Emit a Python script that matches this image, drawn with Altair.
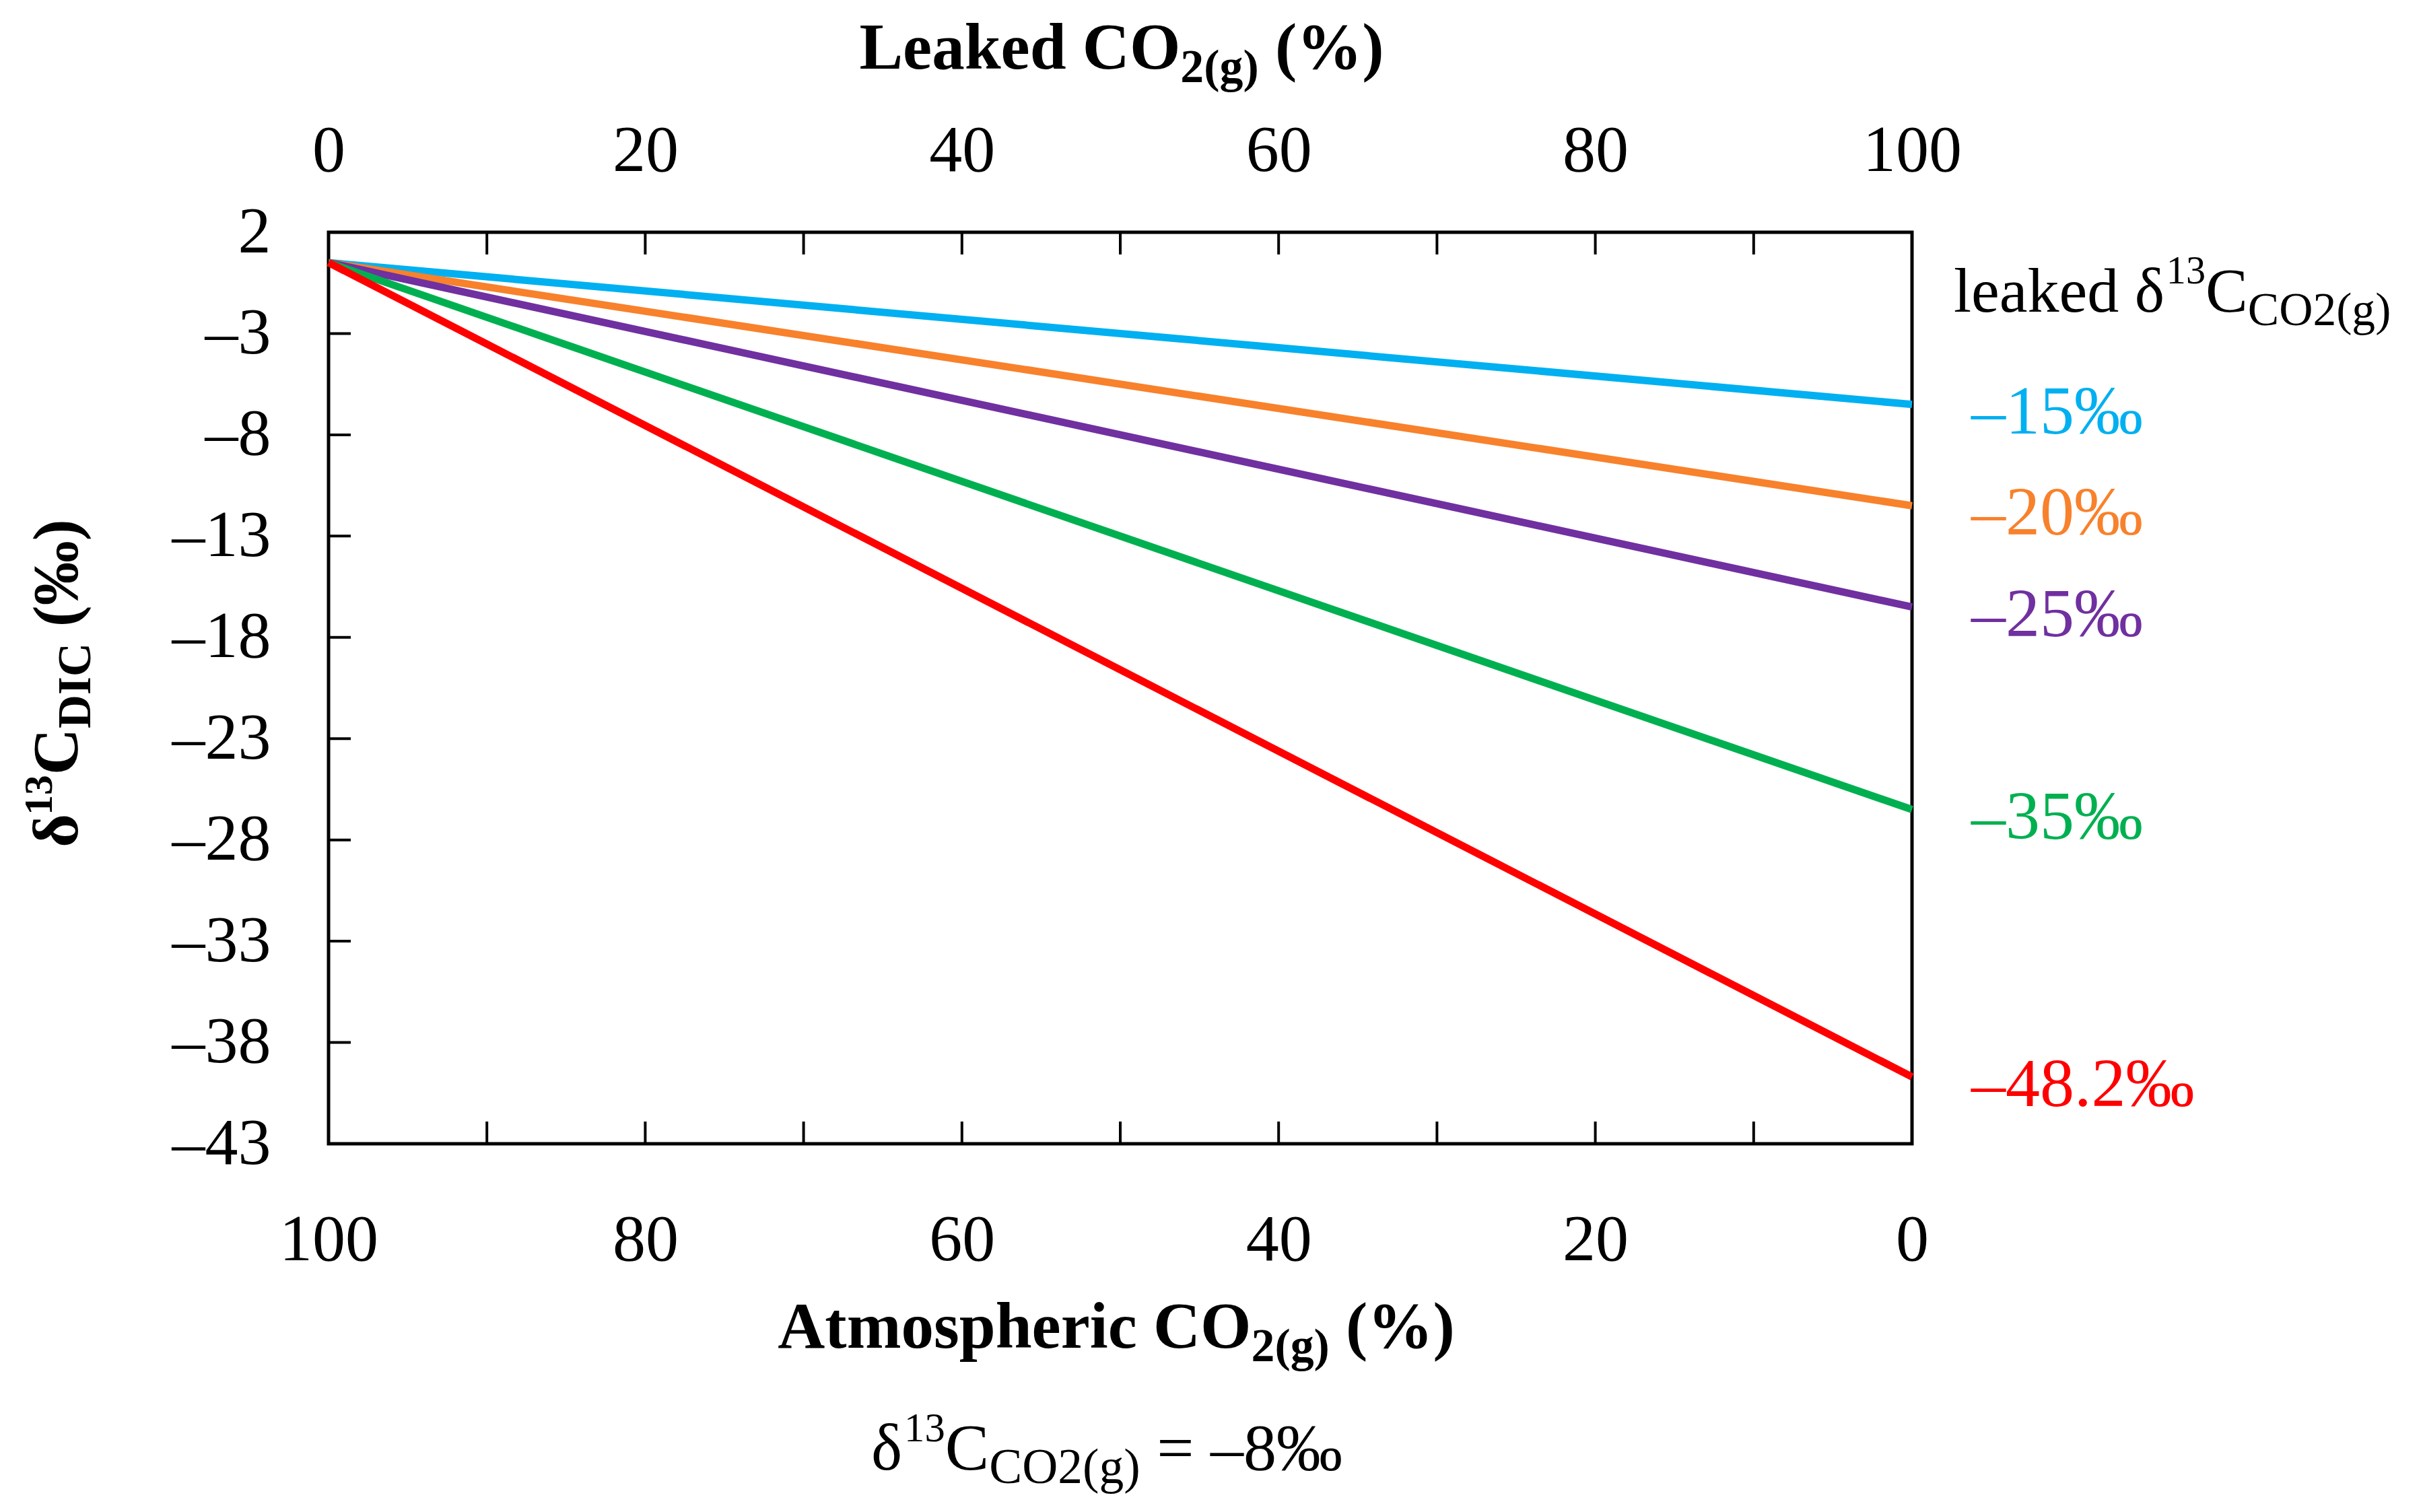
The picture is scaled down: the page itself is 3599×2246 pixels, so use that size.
import altair as alt
import pandas as pd

# ---------------- data ----------------
leaked_pct = [0, 100]                      # leaked CO2(g) fraction (%) at the two ends of each mixing line
series_labels = ["–15‰", "–20‰", "–25‰", "–35‰", "–48.2‰"]
dic_at_0 = [0.5, 0.5, 0.5, 0.5, 0.5]        # δ13C_DIC with 0 % leaked CO2
dic_at_100 = [-6.5, -11.5, -16.5, -26.5, -39.7]  # δ13C_DIC with 100 % leaked CO2
series_colors = ["#00B0F0", "#F8812C", "#7030A0", "#00B050", "#FF0000"]

x_tick_values = [0, 10, 20, 30, 40, 50, 60, 70, 80, 90, 100]
x_label_values = [0, 20, 40, 60, 80, 100]
y_tick_values = [2, -3, -8, -13, -18, -23, -28, -33, -38, -43]

# ---------------- tables ----------------
rows = []
for lab, v0, v1 in zip(series_labels, dic_at_0, dic_at_100):
    for x, v in zip(leaked_pct, [v0, v1]):
        rows.append({"series": lab, "leaked": x, "dic": v})
lines_df = pd.DataFrame(rows)
ends_df = pd.DataFrame({"series": series_labels,
                        "leaked": [leaked_pct[-1]] * len(series_labels),
                        "dic": dic_at_100})
xt_df = pd.DataFrame({"tick": x_tick_values})
yt_df = pd.DataFrame({"tick": y_tick_values})
one = pd.DataFrame({"k": [0]})

W, H = 2352, 1354
FONT = "Liberation Serif"
TICK = 33

xscale = alt.Scale(domain=[0, 100], nice=False, zero=False)
yscale = alt.Scale(domain=[-43, 2], nice=False, zero=False)
cscale = alt.Scale(domain=series_labels, range=series_colors)

axis_common = dict(ticks=False, domain=False, grid=False, title=None,
                   labelFont=FONT, labelFontSize=98, labelColor="black",
                   labelFlush=False, labelOverlap=False, labelBound=False)

y_axis = alt.Axis(orient="left", values=y_tick_values, labelPadding=86,
                  labelExpr="datum.value < 0 ? '–' + format(-datum.value, 'd') : format(datum.value, 'd')",
                  **axis_common)

lines = alt.Chart(lines_df).mark_line(strokeWidth=11).encode(
    x=alt.X("leaked:Q", scale=xscale,
            axis=alt.Axis(orient="bottom", values=x_label_values, labelPadding=95,
                          labelExpr="format(100 - datum.value, 'd')", **axis_common)),
    y=alt.Y("dic:Q", scale=yscale, axis=y_axis),
    color=alt.Color("series:N", scale=cscale, legend=None),
    detail="series:N",
)

top_ticks = alt.Chart(xt_df).mark_rule(color="black", strokeWidth=4).encode(
    x=alt.X("tick:Q", scale=xscale,
            axis=alt.Axis(orient="top", values=x_label_values, labelPadding=71,
                          labelExpr="format(datum.value, 'd')", **axis_common)),
    y=alt.value(0), y2=alt.value(TICK),
)
bottom_ticks = alt.Chart(xt_df).mark_rule(color="black", strokeWidth=4).encode(
    x=alt.X("tick:Q", scale=xscale, axis=None),
    y=alt.value(H), y2=alt.value(H - TICK),
)
left_ticks = alt.Chart(yt_df).mark_rule(color="black", strokeWidth=4).encode(
    y=alt.Y("tick:Q", scale=yscale, axis=y_axis),
    x=alt.value(0), x2=alt.value(TICK),
)

end_labels = alt.Chart(ends_df).mark_text(
    align="left", baseline="middle", dx=88, dy=12, fontSize=102, font=FONT
).encode(
    x=alt.X("leaked:Q", scale=xscale, axis=None),
    y=alt.Y("dic:Q", scale=yscale, axis=y_axis),
    text="series:N",
    color=alt.Color("series:N", scale=cscale, legend=None),
)

# ---------------- rich-text titles (sub/superscripts) ----------------
REG = {' ': 250, '(': 333, ')': 333, '%': 833, '‰': 1000, '=': 564, '–': 500, '.': 250,
       'δ': 500, 'C': 667, 'O': 722, 'g': 500, 'l': 278, 'e': 444, 'a': 444, 'k': 500, 'd': 500}
BOLD = {' ': 250, '(': 333, ')': 333, '%': 1000, '‰': 1000, 'δ': 500, 'A': 722, 't': 333,
        'm': 833, 'o': 500, 's': 389, 'p': 556, 'h': 556, 'e': 444, 'r': 444, 'i': 278,
        'c': 444, 'C': 722, 'O': 778, 'L': 667, 'a': 500, 'k': 556, 'd': 556, 'D': 722, 'I': 389}
for dgt in "0123456789":
    REG[dgt] = 500
    BOLD[dgt] = 500


def text_width(s, bold, size):
    tab = BOLD if bold else REG
    return sum(tab.get(ch, 500) for ch in s) / 1000.0 * size


def rich_text(segments, bold, F, anchor, base, center=True, angle=0,
              sub_scale=0.72, sup_scale=0.62, sub_dy=20, sup_dy=-42):
    sizes = {"n": F, "sub": F * sub_scale, "sup": F * sup_scale}
    dys = {"n": 0, "sub": sub_dy, "sup": sup_dy}
    widths = [text_width(t, bold, sizes[k]) for t, k in segments]
    total = sum(widths)
    if angle:
        pos = anchor + total / 2 if center else anchor
    else:
        pos = anchor - total / 2 if center else anchor
    charts = []
    for (t, k), w in zip(segments, widths):
        stripped = t.lstrip(" ")
        lead = text_width(t[:len(t) - len(stripped)], bold, sizes[k])
        kw = dict(text=stripped.rstrip(" "), fontSize=sizes[k], font=FONT,
                  fontWeight="bold" if bold else "normal",
                  align="left", baseline="alphabetic", color="black", dy=dys[k])
        if angle:
            kw["angle"] = angle
            enc = dict(x=alt.value(base), y=alt.value(pos - lead))
            pos -= w
        else:
            enc = dict(x=alt.value(pos + lead), y=alt.value(base))
            pos += w
        charts.append(alt.Chart(one).mark_text(**kw).encode(**enc))
    return charts


texts = []
texts += rich_text([("Leaked CO", "n"), ("2(g)", "sub"), (" (%)", "n")],
                   True, 97, 1178, -243)
texts += rich_text([("Atmospheric CO", "n"), ("2(g)", "sub"), (" (%)", "n")],
                   True, 97, 1170, 1657)
texts += rich_text([("δ", "n"), ("13", "sup"), ("C", "n"), ("CO2(g)", "sub"), (" = –8‰", "n")],
                   False, 98, 1156, 1838, sub_scale=0.75)
texts += rich_text([("leaked δ", "n"), ("13", "sup"), ("C", "n"), ("CO2(g)", "sub")],
                   False, 94, 2414, 118, center=False, sub_scale=0.74)
texts += rich_text([("δ", "n"), ("13", "sup"), ("C", "n"), ("DIC", "sub"), (" (‰)", "n")],
                   True, 96, 670, -373, angle=270, sub_dy=19, sup_dy=-38)

chart = alt.layer(lines, top_ticks, bottom_ticks, left_ticks, end_labels, *texts).resolve_axis(
    x="independent"
).properties(
    width=W, height=H,
    autosize=alt.AutoSizeParams(type="none"),
    padding={"left": 480, "top": 337, "right": 740, "bottom": 530},
    background="white",
).configure_view(stroke="black", strokeWidth=5)

chart.save("out.html", embed_options={"renderer": "svg", "actions": False})
